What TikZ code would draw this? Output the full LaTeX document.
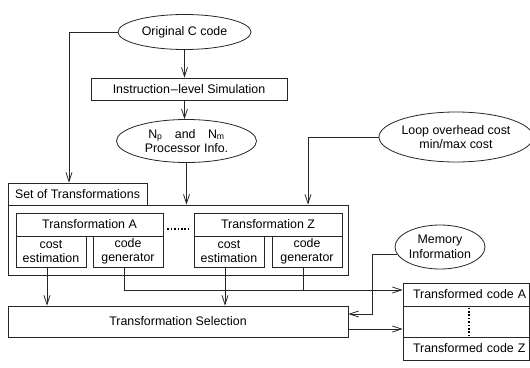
\documentclass[tikz,border=0pt]{standalone}
\usepackage{fontspec}
\setmainfont{Liberation Sans}
\usetikzlibrary{shapes.geometric,arrows.meta,calc}
\begin{document}
\begin{tikzpicture}[x=1pt,y=-1pt,
  every node/.style={font=\fontsize{12.4}{14.5}\selectfont, inner sep=0pt, text=black},
  box/.style={draw=black!85, line width=0.8pt, rectangle, align=center},
  oval/.style={draw=black!85, line width=0.8pt, ellipse, align=center},
  rowbox/.style={draw=black!85, line width=0.8pt, rectangle, align=left, inner xsep=0pt, text width=126pt},
  conn/.style={draw=black!85, line width=0.8pt},
  arr/.style={conn, -{Straight Barb[length=9pt,width=6pt]}},
  dotline/.style={draw=black, line width=1.6pt, dash pattern=on 1.5pt off 1.9pt},
]
\useasboundingbox (0,0) rectangle (530,367);
\node[oval, minimum width=133pt, minimum height=35pt] (orig) at (184.5,32) {Original C code};
\node[box, minimum width=196pt, minimum height=22pt] (sim) at (189,89) {Instruction\kern1pt\textendash\kern0.5pt level Simulation};
\node[oval, minimum width=140pt, minimum height=43pt] (np) at (186.5,141) {N\textsubscript{p}\quad and\quad N\textsubscript{m}\\Processor Info.};
\node[oval, minimum width=146pt, minimum height=50pt] (loop) at (456,137) {Loop overhead cost\\min/max cost};
\node[box, minimum width=139pt, minimum height=22pt] (settitle) at (77.5,194) {Set of Transformations};
\node[box, minimum width=340pt, minimum height=70pt] (big) at (178,240) {};
\node[box, minimum width=147pt, minimum height=23pt] (tA) at (89.5,224.5) {Transformation A};
\node[box, minimum width=70pt, minimum height=31pt] (ceA) at (51,251.5) {cost\\estimation};
\node[box, minimum width=70pt, minimum height=31pt] (cgA) at (128,251.5) {code\\generator};
\node[box, minimum width=148pt, minimum height=23pt] (tZ) at (268,224.5) {Transformation Z};
\node[box, minimum width=70pt, minimum height=31pt] (ceZ) at (229,251.5) {cost\\estimation};
\node[box, minimum width=70pt, minimum height=31pt] (cgZ) at (307,251.5) {code\\generator};
\node[box, minimum width=340pt, minimum height=31pt] (sel) at (178,321.5) {Transformation Selection};
\node[oval, minimum width=90pt, minimum height=44pt] (mem) at (440,247) {Memory\\Information};
\node[rowbox, minimum height=23pt] (tcA) at (466,294.5) {\hspace*{10pt}\mbox{Transformed code A}};
\node[rowbox, minimum height=31pt] (tmid) at (466,321.5) {};
\node[rowbox, minimum height=23pt] (tcZ) at (466,348.5) {\hspace*{10pt}\mbox{Transformed code Z}};
\coordinate (mbend) at (372,314);
\coordinate (tcin) at ([yshift=4.5pt]tcA.west);
% dots
\draw[dotline] ([xshift=4pt,yshift=-4.5pt]tA.east) -- ([xshift=-4pt,yshift=-4.5pt]tZ.west);
\draw[dotline] ([xshift=3pt,yshift=-2pt]tmid.north) -- ([xshift=3pt,yshift=2pt]tmid.south);
% connectors
\draw[arr] (orig.south) -- (orig.south |- sim.north);
\draw[arr] (orig.south |- sim.south) -- (orig.south |- np.north);
\draw[arr] (orig.west) -| ([xshift=-8.5pt]settitle.north);
\draw[arr] (np.south) -- (np.south |- big.north);
\draw[arr] (loop.west) -| ([xshift=130pt]big.north);
\draw[arr] ([xshift=-4pt]ceA.south) -- ([xshift=-4pt]ceA.south |- sel.north);
\draw[arr] ([xshift=-4pt]ceZ.south) -- ([xshift=-4pt]ceZ.south |- sel.north);
\draw[arr] ([xshift=-4pt]cgA.south) |- (tcin);
\draw[conn] ([xshift=-4pt]cgZ.south) -- ([xshift=-4pt]cgZ.south |- tcin);
\draw[arr] (mem.190) -| (mbend) -- (mbend -| sel.east);
\draw[arr] ([yshift=-7.5pt]sel.east) -- ([yshift=-7.5pt]tmid.west);
\end{tikzpicture}
\end{document}
